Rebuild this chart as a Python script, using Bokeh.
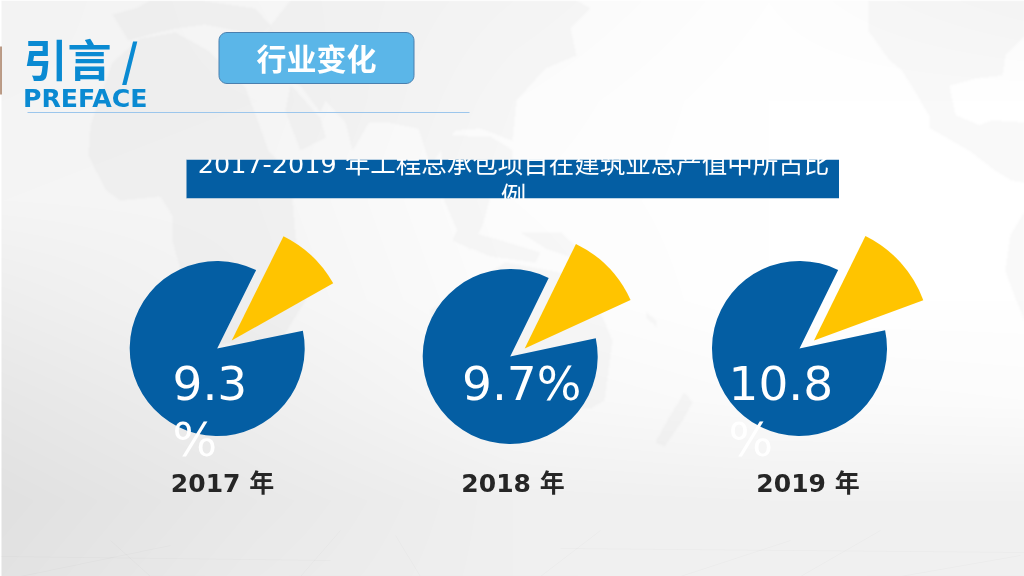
import numpy as np
from bokeh.plotting import figure
from bokeh.embed import file_html
from bokeh.resources import INLINE
from bokeh.core.properties import value
from bokeh.models import ColumnDataSource

W, H = 1024, 576

# ---- chart data
years = ["2017 年", "2018 年", "2019 年"]
label_first = ["9.3", "9.7%", "10.8"]
label_second = ["%", "", "%"]
slice_share = [9.5, 10.9, 12.1]     # drawn size of the yellow slice, in % of a full turn
rest_share = [85.6, 85.6, 85.6]     # drawn size of the blue part, in % of a full turn
start_deg = [63.6, 63.9, 63.8]
pie_x = [216.7, 509.7, 799]
pie_y_px = [348, 356, 348]
year_x = [222, 512.5, 807.5]
label_x = [172, 461.5, 728]

title_lines = ["2017-2019 年工程总承包项目在建筑业总产值中所占比", "例"]
BLUE = "#045EA3"
YELLOW = "#FFC400"
HEAD = "#0A8AD2"

Y = lambda v: H - v
# baseline position in the picture -> anchor handed to the text glyph
B = lambda v, size: H - (v - 0.385 * size)

# ---- background plate: soft grey wash with a faint world map
gx = [0, 256, 512, 768, 1024]
gy = [0, 100, 200, 300, 400, 500, 576]
wash = np.array([
    [243, 246, 250, 254, 250],
    [244, 245, 252, 255, 255],
    [245, 246, 253, 255, 255],
    [238, 245, 252, 255, 255],
    [231, 239, 248, 251, 252],
    [225, 233, 240, 241, 241],
    [227, 235, 240, 240, 240]], dtype=float)
cols = np.array([np.interp(np.arange(W), gx, r) for r in wash])
bg = np.array([np.interp(np.arange(H), gy, cols[:, i]) for i in range(W)]).T

land = [
    [(112, 14), (135, 8), (150, 0), (200, 0), (255, 8), (270, 25), (262, 34), (235, 30), (205, 24), (175, 28), (150, 34), (128, 40)],
    [(140, 38), (175, 32), (210, 52), (245, 88), (268, 150), (290, 175), (295, 235), (305, 300), (280, 340), (200, 345), (186, 290), (172, 240), (172, 215), (160, 196), (120, 200), (106, 190), (88, 155), (90, 125), (112, 62)],
    [(262, 36), (290, 0), (575, 0), (590, 8), (570, 28), (576, 55), (545, 68), (516, 100), (512, 140), (480, 128), (455, 130), (430, 165), (418, 128), (388, 122), (368, 122), (352, 150), (345, 122), (325, 100), (320, 112), (300, 85), (285, 78), (270, 62)],
    [(290, 84), (320, 118), (325, 137), (300, 150), (285, 110)],
    [(442, 135), (490, 136), (512, 150), (512, 172), (490, 195), (482, 225), (470, 250), (458, 232), (440, 190)],
    [(458, 228), (500, 240), (540, 252), (535, 262), (490, 256), (452, 240)],
    [(520, 232), (560, 232), (580, 250), (575, 258), (545, 248)],
    [(430, 310), (505, 262), (560, 272), (590, 290), (612, 340), (604, 400), (590, 408), (500, 402), (440, 372)],
    [(684, 392), (692, 402), (682, 420), (664, 446), (655, 442), (668, 418)],
    [(646, 312), (656, 320), (656, 326), (646, 318)],
    [(868, 0), (868, 30), (889, 60), (902, 70), (929, 115), (929, 127), (969, 150), (995, 170), (1012, 180), (1024, 182), (1024, 122), (992, 120), (979, 125), (955, 115), (949, 85), (975, 78), (1002, 75), (1005, 55), (1024, 35), (1024, 0)],
    [(1024, 212), (1010, 235), (1005, 270), (1016, 300), (1024, 320)],
]
xx, yy = np.meshgrid(np.arange(W) + 0.5, np.arange(H) + 0.5)
mask = np.zeros((H, W), dtype=bool)
for poly in land:
    inside = np.zeros((H, W), dtype=bool)
    for (x0, y0), (x1, y1) in zip(poly, poly[1:] + poly[:1]):
        if y0 == y1:
            continue
        ylo, yhi = min(y0, y1), max(y0, y1)
        rows = (yy[:, 0] >= ylo) & (yy[:, 0] < yhi)
        xc = x0 + (yy[rows] - y0) * (x1 - x0) / (y1 - y0)
        inside[rows] ^= xx[rows] < xc
    mask |= inside
soft = mask.astype(float)
for axis in (0, 1):
    soft = (np.roll(soft, 1, axis) + soft + np.roll(soft, -1, axis)) / 3
bg = bg - soft * 6
bg[:, 0] = 255
g = np.clip(bg, 0, 255).astype(np.uint32)
plate = ((255 << 24) | (g << 16) | (g << 8) | g).astype(np.uint32)

p = figure(width=W, height=H, x_range=(0, W), y_range=(0, H), toolbar_location=None,
           output_backend="svg", min_border=0, outline_line_color=None,
           styles={"position": "fixed", "left": "0", "top": "0"})
p.axis.visible = False
p.grid.visible = False


def paint(y0, y1, x0=0, x1=W):
    p.image_rgba(image=[plate[y0:y1, x0:x1][::-1]], x=x0, y=Y(y1), dw=x1 - x0, dh=y1 - y0)


paint(0, H)

# faint floor lines
floor_x0 = [20, 150, 300, 420, 540, 680, 800, 900, 0, 560]
floor_x1 = [170, 110, 340, 395, 600, 790, 880, 1020, 330, 1024]
floor_y0 = [576, 576, 576, 576, 576, 576, 576, 576, 556, 548]
floor_y1 = [545, 540, 530, 535, 530, 540, 530, 555, 560, 552]
p.segment(floor_x0, [Y(v) for v in floor_y0], floor_x1, [Y(v) for v in floor_y1],
          line_color="#000000", line_alpha=0.018, line_width=1)

# brown sliver at the left edge
p.quad(left=[-1], right=[1], top=[Y(46)], bottom=[Y(94)], fill_color="#7A3A10", line_color=None)

# header
p.text([23], [B(74.5, 44)], text=["引言 /"], text_font=value("Noto Sans CJK SC"), text_font_style="bold",
       text_font_size="44px", text_color=HEAD, text_baseline="alphabetic")
p.text([22.5], [B(108, 25.2)], text=["PREFACE"], text_font=value("DejaVu Sans"), text_font_style="bold",
       text_font_size="25.2px", text_color=HEAD, text_baseline="alphabetic")
p.segment([27], [Y(112)], [469], [Y(112)], line_color="#9CC6EC", line_width=1.2)

# button
t = np.linspace(0, np.pi / 2, 8)
bx0, bx1, by0, by1, br = 218.5, 413.5, 32, 83, 8
btn_x = np.concatenate([bx0 + br - br * np.cos(t), bx1 - br + br * np.sin(t),
                        bx1 - br + br * np.cos(t), bx0 + br - br * np.sin(t)])
btn_y = np.concatenate([by0 + br - br * np.sin(t), by0 + br - br * np.cos(t),
                        by1 - br + br * np.sin(t), by1 - br + br * np.cos(t)])
p.patch(btn_x, H - btn_y, fill_color="#5BB6E8", line_color="#4A7FAE", line_width=1)
p.text([316], [Y(56)], text=["行业变化"], text_font=value("Noto Sans CJK SC"), text_font_style="bold",
       text_font_size="30px", text_color="#FFFFFF", text_align="center", text_baseline="middle")

# banner with its clipped, overflowing title
p.quad(left=[186], right=[838.5], top=[Y(159)], bottom=[Y(198)], fill_color=BLUE, line_color=None)
p.text([513, 513], [B(173, 25.5), B(205, 25.5)], text=title_lines,
       text_font=value("DejaVu Sans, Noto Sans CJK SC"),
       text_font_size="25.5px", text_color="#FFFFFF", text_align="center", text_baseline="alphabetic")
paint(146, 159, 186, 839)
paint(198, 214, 186, 839)

# pies
rad = np.deg2rad
start = np.array(start_deg)
yy_c = np.array([Y(v) for v in pie_y_px], dtype=float)
blue_src = ColumnDataSource(dict(x=pie_x, y=yy_c, s=rad(start), e=rad(start - (100 - np.array(rest_share)) * 3.6)))
p.wedge(x="x", y="y", radius=87.5, start_angle="s", end_angle="e", direction="anticlock", source=blue_src,
        fill_color=BLUE, line_color=None)
yellow_src = ColumnDataSource(dict(x=np.array(pie_x) + 14.5, y=yy_c + 8, s=rad(start),
                                   e=rad(start - np.array(slice_share) * 3.6)))
p.wedge(x="x", y="y", radius=116.5, start_angle="s", end_angle="e", direction="clock", source=yellow_src,
        fill_color=YELLOW, line_color=None)

p.text(label_x, [B(401, 47)] * 3, text=label_first, text_font=value("DejaVu Sans"), text_font_size="47px",
       text_color="#FFFFFF", text_baseline="alphabetic")
p.text(label_x, [B(457, 47)] * 3, text=label_second, text_font=value("DejaVu Sans"), text_font_size="47px",
       text_color="#FFFFFF", text_baseline="alphabetic")
p.text(year_x, [B(493, 25)] * 3, text=years, text_font=value("DejaVu Sans, Noto Sans CJK SC"),
       text_font_style="bold", text_font_size="25px", text_color="#262626",
       text_align="center", text_baseline="alphabetic")

open("out.html", "w").write(file_html(p, INLINE))
